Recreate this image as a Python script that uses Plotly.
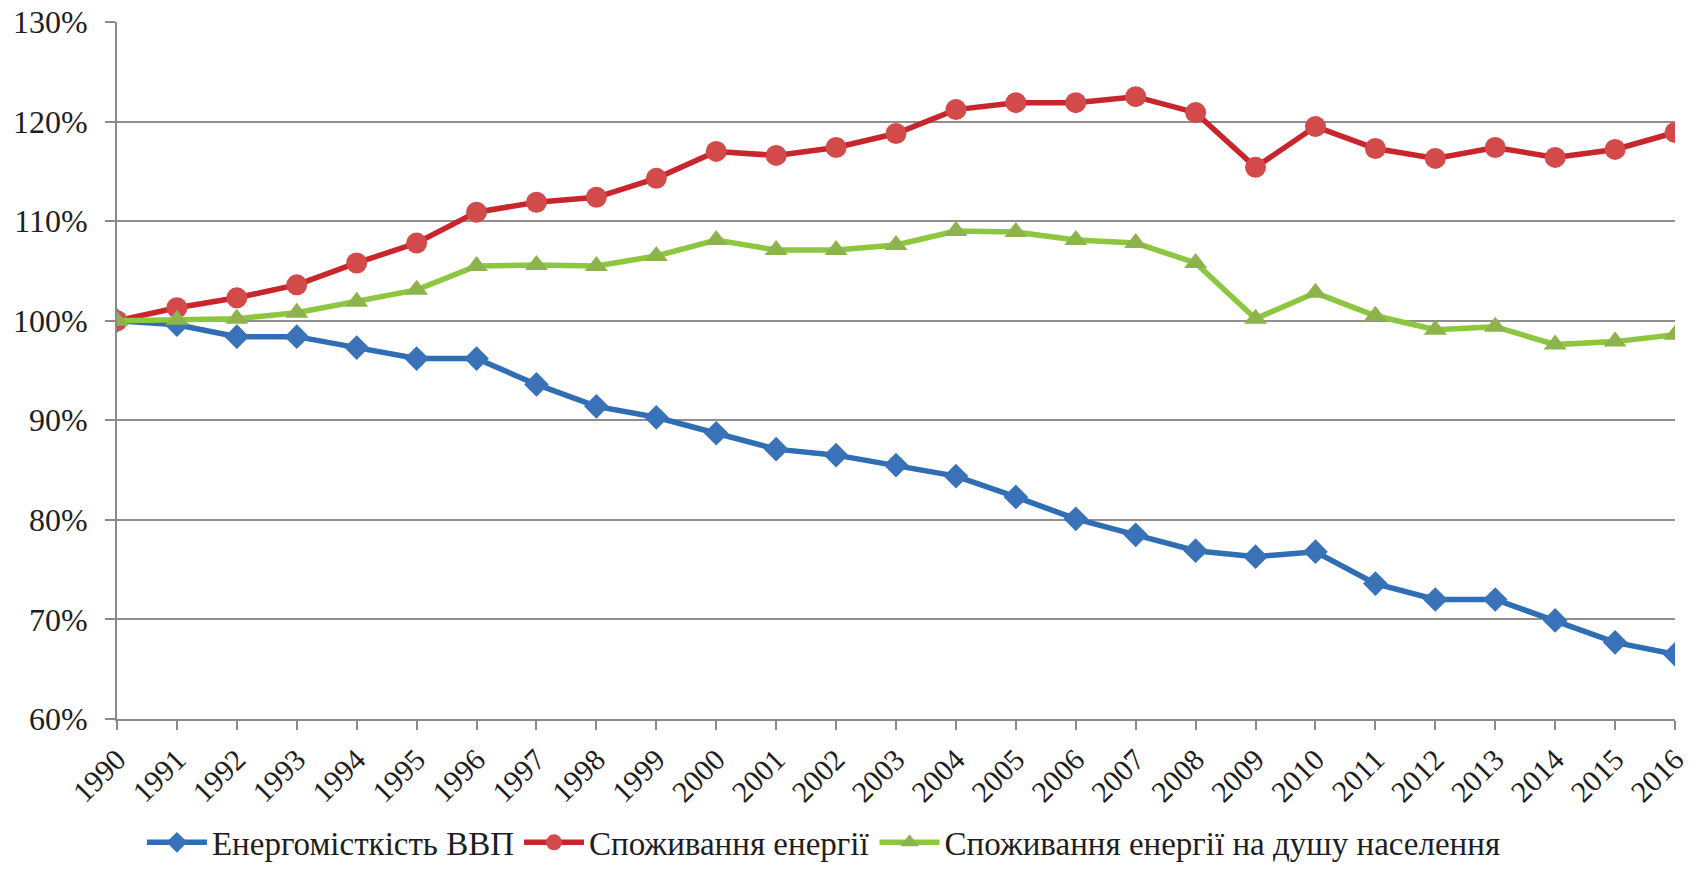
import plotly.graph_objects as go

years = [str(y) for y in range(1990, 2017)]

energy_intensity_gdp = [100.0, 99.6, 98.4, 98.4, 97.3, 96.2, 96.2, 93.6, 91.4, 90.3,
                        88.7, 87.1, 86.5, 85.5, 84.4, 82.3, 80.1, 78.5, 76.9, 76.3,
                        76.8, 73.6, 72.0, 72.0, 69.9, 67.7, 66.5]

energy_consumption = [100.0, 101.3, 102.3, 103.6, 105.8, 107.8, 110.9, 111.9, 112.4, 114.3,
                      117.0, 116.6, 117.4, 118.8, 121.2, 121.9, 121.9, 122.5, 120.9, 115.4,
                      119.5, 117.3, 116.3, 117.4, 116.4, 117.2, 118.9]

consumption_per_capita = [100.0, 100.1, 100.2, 100.8, 101.9, 103.1, 105.5, 105.6, 105.5, 106.5,
                          108.1, 107.1, 107.1, 107.6, 109.0, 108.9, 108.1, 107.8, 105.8, 100.2,
                          102.8, 100.5, 99.1, 99.4, 97.6, 97.9, 98.6]

series_names = ["Енергомісткість ВВП", "Споживання енергії",
                "Споживання енергії на душу населення"]

FONT = "Liberation Serif, serif"
TEXT = "#1E1E1E"

fig = go.Figure()

fig.add_trace(go.Scatter(
    x=years, y=energy_intensity_gdp, name=series_names[0], mode="lines+markers",
    line=dict(color="#2F6DB5", width=5.5),
    marker=dict(symbol="diamond", size=19, color="#3A72BA"),
))
fig.add_trace(go.Scatter(
    x=years, y=energy_consumption, name=series_names[1], mode="lines+markers",
    line=dict(color="#C8262C", width=5.5),
    marker=dict(symbol="circle", size=21, color="#D24B4A"),
))
fig.add_trace(go.Scatter(
    x=years, y=consumption_per_capita, name=series_names[2], mode="lines+markers",
    line=dict(color="#8DC63F", width=5.5),
    marker=dict(symbol="triangle-up", size=20, color="#8DB34C"),
))

fig.update_layout(
    width=1696, height=872,
    margin=dict(l=117, r=21, t=22, b=153, autoexpand=False),
    paper_bgcolor="white", plot_bgcolor="white",
    font=dict(family=FONT, size=30, color=TEXT),
    showlegend=True,
    legend=dict(
        orientation="h", x=0.016, xanchor="left", y=-0.177, yanchor="middle",
        font=dict(family=FONT, size=33, color=TEXT),
        itemwidth=60, tracegroupgap=0, bgcolor="rgba(0,0,0,0)",
    ),
)

fig.update_xaxes(
    type="category", range=[0, 26], automargin=False,
    showgrid=False, zeroline=False,
    showline=True, linecolor="#8A8A8A", linewidth=2,
    ticks="outside", ticklen=9, tickwidth=2, tickcolor="#8A8A8A",
    tickangle=-45, tickfont=dict(family=FONT, size=30, color=TEXT),
)

fig.update_yaxes(
    range=[60, 130], dtick=10, ticksuffix="%", automargin=False,
    showgrid=True, gridcolor="#8F8F8F", gridwidth=2, zeroline=False,
    showline=True, linecolor="#8A8A8A", linewidth=2,
    ticks="outside", ticklen=10, tickwidth=2, tickcolor="#8A8A8A",
    ticklabelstandoff=11,
    tickfont=dict(family=FONT, size=32, color=TEXT),
)

fig.write_html("out.html")
